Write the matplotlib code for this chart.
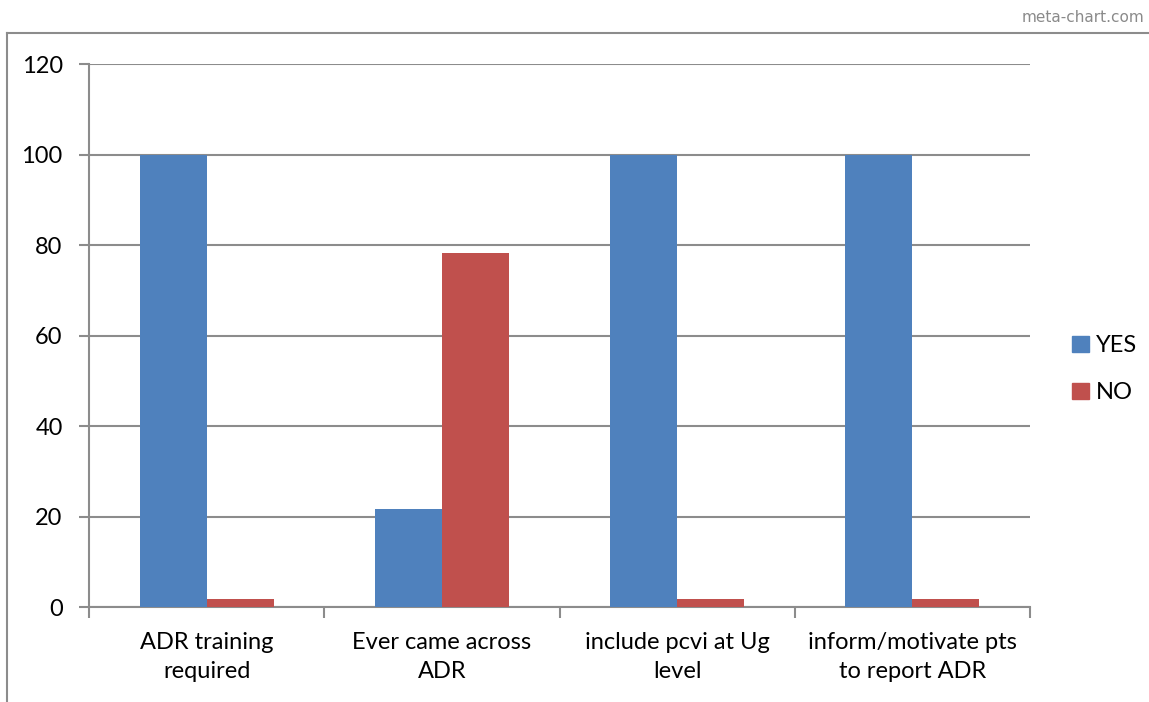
import numpy as np
import matplotlib
matplotlib.use('Agg')
import matplotlib.pyplot as plt
from matplotlib.lines import Line2D
from matplotlib.patches import Patch

plt.rcParams['font.family'] = ['Lato', 'DejaVu Sans']

categories = ['ADR training\nrequired', 'Ever came across\nADR',
              'include pcvi at Ug\nlevel', 'inform/motivate pts\nto report ADR']
yes_vals = [100, 21.7, 100, 100]
no_vals = [1.8, 78.3, 1.8, 1.8]
y_ticks = [0, 20, 40, 60, 80, 100, 120]

blue = '#4F81BD'
red = '#C0504D'
grey = '#8C8C8C'

fig = plt.figure(figsize=(11.49, 7.02), dpi=100)
ax = fig.add_axes([0.0775, 0.1353, 0.8189, 0.7735])

x = np.arange(len(categories))
w = 0.285
ax.bar(x - w / 2, yes_vals, w, color=blue, label='YES', zorder=3)
ax.bar(x + w / 2, no_vals, w, color=red, label='NO', zorder=3)

ax.set_xlim(-0.5, len(categories) - 0.5)
ax.set_ylim(0, 120)
ax.set_yticks(y_ticks)
ax.set_yticklabels([str(v) for v in y_ticks], fontsize=17)
ax.yaxis.grid(True, color=grey, linewidth=1.5, zorder=0)

# category labels centred, tick marks on the boundaries
ax.set_xticks(x)
ax.set_xticklabels(categories, fontsize=17, linespacing=1.45)
ax.tick_params(axis='x', length=0, pad=18)
ax.set_xticks(np.arange(len(categories) + 1) - 0.5, minor=True)
ax.tick_params(axis='x', which='minor', length=8, width=1.5, color=grey)
ax.tick_params(axis='y', length=7, width=1.5, color=grey, pad=12)

for side in ['top', 'right']:
    ax.spines[side].set_visible(False)
for side in ['left', 'bottom']:
    ax.spines[side].set_color(grey)
    ax.spines[side].set_linewidth(1.5)

handles = [Patch(color=blue, label='YES'), Patch(color=red, label='NO')]
fig.legend(handles=handles, loc='center left', bbox_to_anchor=(0.9146, 0.474),
           frameon=False, fontsize=17, handlelength=0.7, handleheight=0.7,
           handletextpad=0.3, labelspacing=1.1)

# outer frame around chart
fig.add_artist(Line2D([0.0065, 0.0065], [0, 0.953], color=grey, lw=1.5))
fig.add_artist(Line2D([0.0065, 1.0], [0.953, 0.953], color=grey, lw=1.5))

fig.text(0.996, 0.975, 'meta-chart.com', ha='right', va='center',
         fontsize=11, color='#8a8a8a', family=['DejaVu Sans'])

fig.savefig('out.png', dpi=100)
